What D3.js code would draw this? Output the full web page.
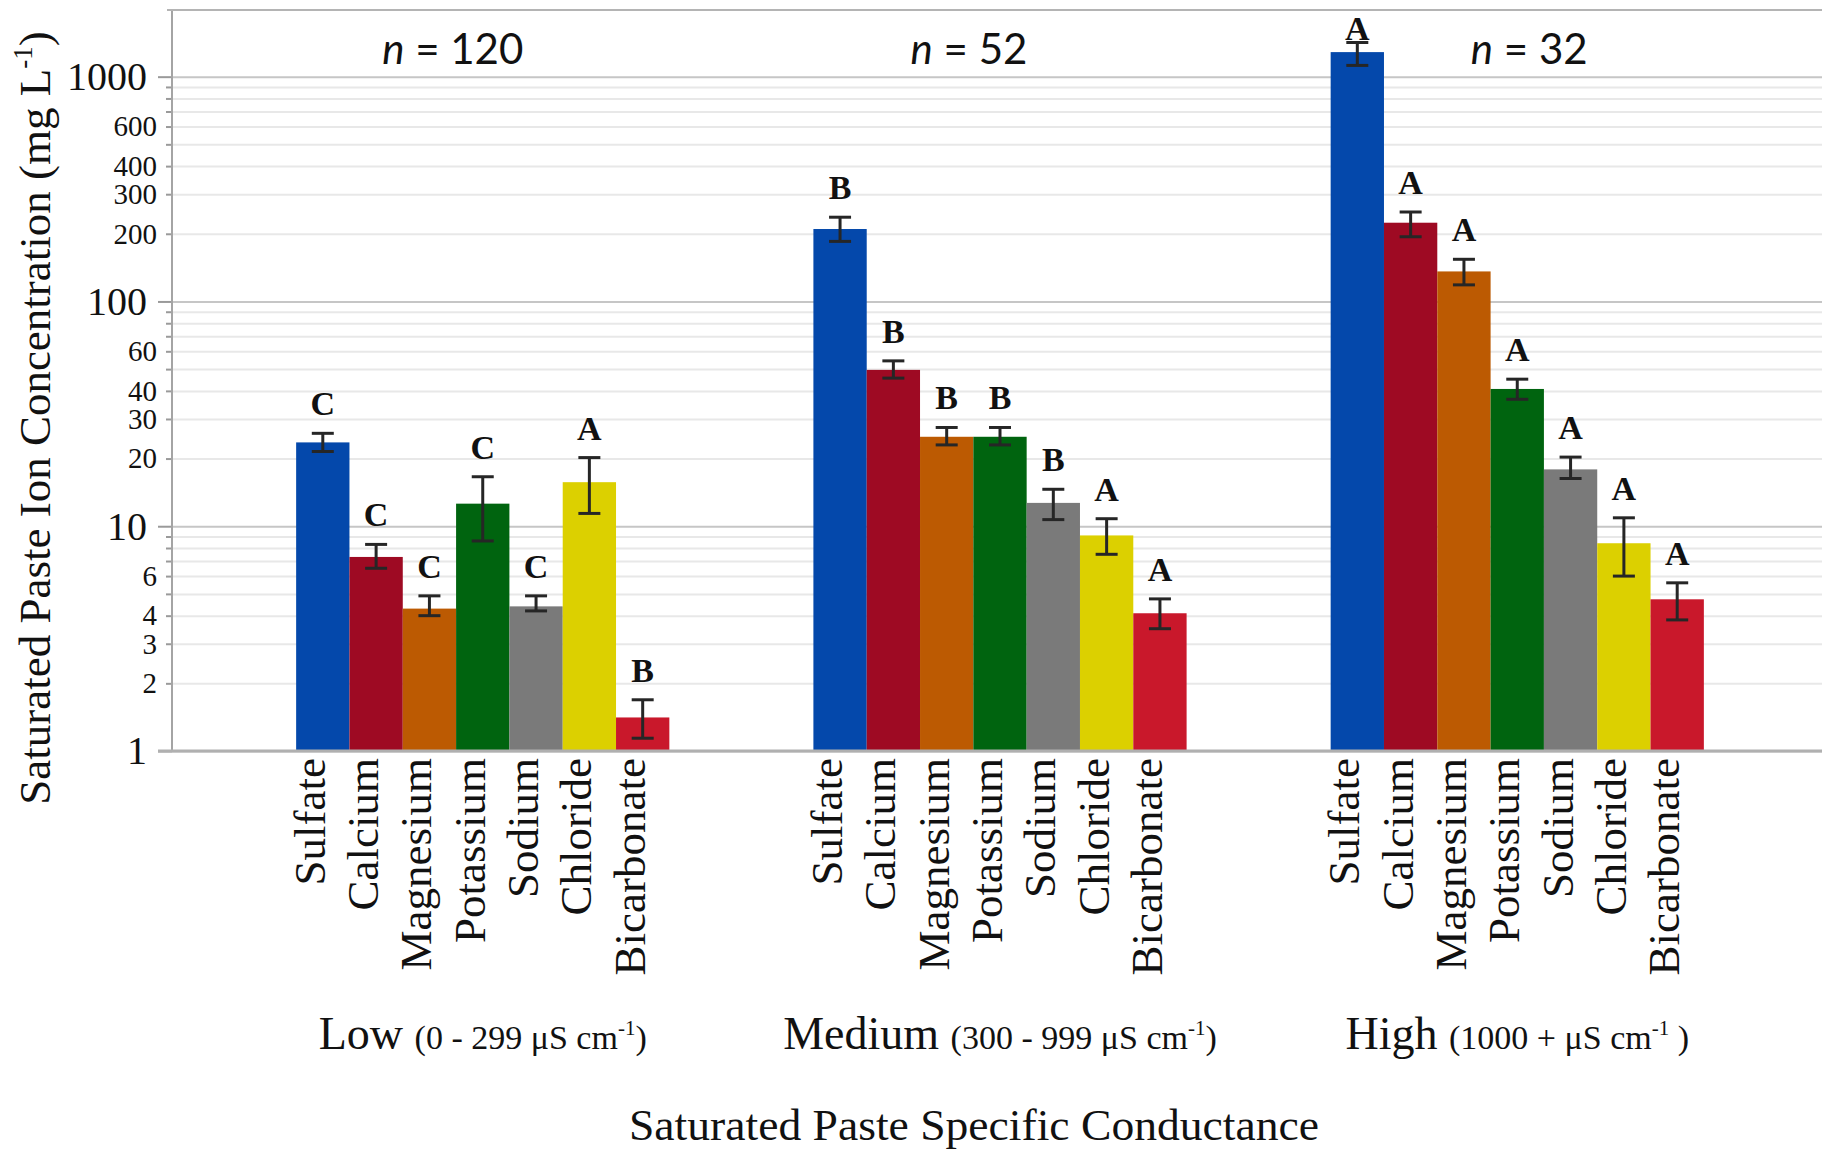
<!DOCTYPE html>
<html>
<head>
<meta charset="utf-8">
<script src="https://cdnjs.cloudflare.com/ajax/libs/d3/7.8.5/d3.min.js"></script>
<style>
    body { margin: 0; background: #fff; }
    svg text { font-family: "Liberation Serif", "Times New Roman", serif; fill: #111; }
</style>
</head>
<body>
<svg id="chart" width="1822" height="1152"></svg>
<script>
// conductance classes
const groups = ["Low", "Medium", "High"];
const groupRanges = ["(0 - 299 μS cm", "(300 - 999 μS cm", "(1000 + μS cm"];
const groupRangeEnds = [")", ")", " )"];
const sampleCounts = [120, 52, 32];

// ions and their bar colours
const ions = ["Sulfate", "Calcium", "Magnesium", "Potassium", "Sodium", "Chloride", "Bicarbonate"];
const ionColors = ["#0448ab", "#9e0a23", "#bc5a02", "#00640f", "#7a7a7a", "#dcd000", "#c9182b"];

// mean concentration (mg/L) with lower / upper error bar ends
const lowMean = [23.6, 7.3, 4.3, 12.6, 4.4, 15.7, 1.41];
const lowLower = [21.5, 6.5, 4.0, 8.6, 4.2, 11.4, 1.14];
const lowUpper = [25.9, 8.3, 4.9, 16.6, 4.9, 20.2, 1.69];

const mediumMean = [210, 49.6, 25.0, 25.0, 12.7, 9.1, 4.1];
const mediumLower = [185, 45.6, 23.0, 23.0, 10.7, 7.5, 3.5];
const mediumUpper = [237, 54.4, 27.5, 27.5, 14.6, 10.8, 4.75];

const highMean = [1286, 224, 136, 40.8, 17.9, 8.4, 4.73];
const highLower = [1122, 194, 118.5, 36.7, 16.3, 6.0, 3.83];
const highUpper = [1419, 250, 154, 45.1, 20.3, 10.9, 5.6];

// significance letters
const lowLetters = ["C", "C", "C", "C", "C", "A", "B"];
const mediumLetters = ["B", "B", "B", "B", "B", "A", "A"];
const highLetters = ["A", "A", "A", "A", "A", "A", "A"];

// y ticks
const majorTicks = [1, 10, 100, 1000];
const labelledMinor = [2, 3, 4, 6, 20, 30, 40, 60, 200, 300, 400, 600];

const means = [lowMean, mediumMean, highMean];
const lowers = [lowLower, mediumLower, highLower];
const uppers = [lowUpper, mediumUpper, highUpper];
const letters = [lowLetters, mediumLetters, highLetters];

let rows = [];
groups.forEach(function (g, gi) {
    ions.forEach(function (ion, i) {
        rows.push({group: g, ion: ion, color: ionColors[i], mean: means[gi][i],
            lo: lowers[gi][i], hi: uppers[gi][i], letter: letters[gi][i]});
    });
});

let plotLeft = 172, plotRight = 1822, plotTop = 10, plotBottom = 751;

let svg = d3.select("#chart");

let y = d3.scaleLog().domain([1, 2000]).range([plotBottom, 9]);

let x0 = d3.scaleBand().domain(groups)
    .range([plotLeft, 1828])
    .paddingInner(0.2785)
    .paddingOuter(0.24);

let x1 = d3.scaleBand().domain(ions).range([0, x0.bandwidth()]);

let gridTicks = y.ticks().filter(d => d < 2000);
let minorTicks = gridTicks.filter(d => majorTicks.indexOf(d) < 0);

//gridlines
svg.append("g")
    .attr("transform", "translate(" + plotLeft + ",0)")
    .call(d3.axisLeft(y).tickValues(gridTicks).tickSize(-(plotRight - plotLeft)).tickFormat(""))
    .call(g => g.select(".domain").remove())
    .selectAll("line")
    .attr("stroke", d => majorTicks.indexOf(d) >= 0 ? "#c6c6c6" : "#e8e8e8")
    .attr("stroke-width", 2);

// minor ticks with some labels
svg.append("g")
    .attr("transform", "translate(" + plotLeft + ",0)")
    .call(d3.axisLeft(y).tickValues(minorTicks).tickSize(6).tickPadding(9)
        .tickFormat(d => labelledMinor.indexOf(d) >= 0 ? d : ""))
    .call(g => g.select(".domain").remove())
    .call(g => g.selectAll("line").attr("stroke", "#9a9a9a").attr("stroke-width", 2))
    .selectAll("text")
    .style("font-family", "Liberation Serif")
    .style("font-size", "29px")
    .attr("fill", "#222");

// major ticks
svg.append("g")
    .attr("transform", "translate(" + plotLeft + ",0)")
    .call(d3.axisLeft(y).tickValues(majorTicks).tickSize(14).tickPadding(11)
        .tickFormat(d3.format("d")))
    .call(g => g.select(".domain").remove())
    .call(g => g.selectAll("line").attr("stroke", "#9a9a9a").attr("stroke-width", 2))
    .selectAll("text")
    .style("font-family", "Liberation Serif")
    .style("font-size", "40px")
    .attr("fill", "#222");

//frame lines
svg.append("line").attr("x1", plotLeft).attr("x2", plotLeft)
    .attr("y1", plotTop).attr("y2", plotBottom)
    .attr("stroke", "#a4a4a4").attr("stroke-width", 2);
svg.append("line").attr("x1", 167).attr("x2", plotRight)
    .attr("y1", plotTop).attr("y2", plotTop)
    .attr("stroke", "#b4b4b4").attr("stroke-width", 2);

// bars
svg.append("g").selectAll("rect")
    .data(rows)
    .join("rect")
    .attr("x", d => x0(d.group) + x1(d.ion))
    .attr("width", x1.bandwidth())
    .attr("y", d => y(d.mean))
    .attr("height", d => y(1) - y(d.mean))
    .attr("fill", d => d.color);

svg.append("line").attr("x1", 158).attr("x2", plotRight)
    .attr("y1", plotBottom).attr("y2", plotBottom)
    .attr("stroke", "#b0b0b0").attr("stroke-width", 3);

// error bars
let capHalf = 11;
let errs = svg.append("g").attr("stroke", "#262626").attr("stroke-width", 3)
    .selectAll("g")
    .data(rows)
    .join("g")
    .attr("transform", d => "translate(" + (x0(d.group) + x1(d.ion) + x1.bandwidth() / 2) + ",0)");
errs.append("line").attr("y1", d => y(d.lo)).attr("y2", d => y(d.hi));
errs.append("line").attr("x1", -capHalf).attr("x2", capHalf).attr("y1", d => y(d.lo)).attr("y2", d => y(d.lo));
errs.append("line").attr("x1", -capHalf).attr("x2", capHalf).attr("y1", d => y(d.hi)).attr("y2", d => y(d.hi));

// letters above error bars
svg.append("g").selectAll("text")
    .data(rows)
    .join("text")
    .attr("x", d => x0(d.group) + x1(d.ion) + x1.bandwidth() / 2)
    .attr("y", d => Math.max(y(d.hi) - 18, 40))
    .attr("text-anchor", "middle")
    .style("font-size", "34px")
    .style("font-weight", "bold")
    .text(d => d.letter);

// ion names under each group
groups.forEach(function (g) {
    svg.append("g")
        .attr("transform", "translate(" + x0(g) + "," + plotBottom + ")")
        .call(d3.axisBottom(x1).tickSize(0).tickPadding(0))
        .call(a => a.select(".domain").remove())
        .selectAll("text")
        .attr("transform", "rotate(-90)")
        .attr("x", -7)
        .attr("y", 2)
        .attr("dy", 0)
        .attr("text-anchor", "end")
        .style("font-family", "Liberation Serif")
        .style("font-size", "45px")
        .attr("fill", "#111");
});

// group labels
groups.forEach(function (g, gi) {
    let t = svg.append("text")
        .attr("x", x0(g) + x0.bandwidth() / 2)
        .attr("y", 1049)
        .attr("text-anchor", "middle");
    t.append("tspan").style("font-size", "46px").text(g + " ");
    t.append("tspan").style("font-size", "34px").text(groupRanges[gi]);
    t.append("tspan").style("font-size", "21px").attr("dy", -14).text("-1");
    t.append("tspan").style("font-size", "34px").attr("dy", 14).text(groupRangeEnds[gi]);
});

// sample sizes
let nShift = [-30, -31, 12];
groups.forEach(function (g, gi) {
    let t = svg.append("text")
        .attr("x", x0(g) + x0.bandwidth() / 2 + nShift[gi])
        .attr("y", 64)
        .attr("text-anchor", "middle")
        .style("font-family", "Lato, 'Open Sans', sans-serif")
        .style("font-size", "42px");
    t.append("tspan").style("font-style", "italic").style("font-family", "Lato").text("n");
    t.append("tspan").style("font-family", "Lato").text(" = " + sampleCounts[gi]);
});

// axis titles
svg.append("text")
    .attr("x", 974)
    .attr("y", 1140)
    .attr("text-anchor", "middle")
    .style("font-size", "44px")
    .attr("textLength", 690)
    .attr("lengthAdjust", "spacingAndGlyphs")
    .text("Saturated Paste Specific Conductance");

let yTitle = svg.append("text")
    .attr("transform", "translate(50,418) rotate(-90)")
    .attr("text-anchor", "middle")
    .style("font-size", "45px");
yTitle.append("tspan").text("Saturated Paste Ion  Concentration (mg L");
yTitle.append("tspan").style("font-size", "27px").attr("dy", -18).text("-1");
yTitle.append("tspan").attr("dy", 18).text(")");
</script>
</body>
</html>
